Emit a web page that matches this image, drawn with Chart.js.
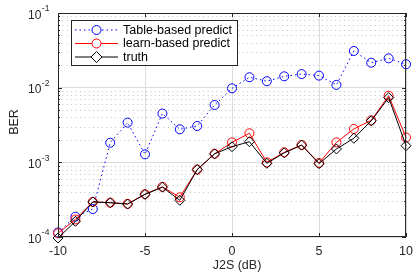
<!DOCTYPE html>
<html>
<head>
<meta charset="utf-8">
<script src="https://cdn.jsdelivr.net/npm/chart.js@4/dist/chart.umd.min.js"></script>
<style>
  html, body { margin: 0; padding: 0; background: #fff; }
  #wrap { width: 420px; height: 274px; position: relative; }
</style>
</head>
<body>
<div id="wrap"><canvas id="berChart"></canvas></div>
<script>
// J2S in dB
const j2s = [-10, -9, -8, -7, -6, -5, -4, -3, -2, -1, 0, 1, 2, 3, 4, 5, 6, 7, 8, 9, 10];

const tableBased = [1.15e-4, 1.87e-4, 2.37e-4, 1.83e-3, 3.4e-3, 1.28e-3, 4.5e-3, 2.77e-3, 3.07e-3, 5.86e-3,
    9.8e-3, 1.38e-2, 1.22e-2, 1.42e-2, 1.52e-2, 1.45e-2, 1.09e-2, 3.1e-2, 2.16e-2, 2.47e-2, 2.06e-2];
const learnBased = [1.12e-4, 1.72e-4, 2.95e-4, 2.88e-4, 2.78e-4, 3.75e-4, 4.7e-4, 3.4e-4, 8.0e-4, 1.3e-3,
    1.85e-3, 2.45e-3, 1.0e-3, 1.36e-3, 1.71e-3, 9.8e-4, 1.85e-3, 2.8e-3, 3.65e-3, 7.8e-3, 2.15e-3];
const truth = [0.97e-4, 1.62e-4, 2.95e-4, 2.88e-4, 2.76e-4, 3.72e-4, 4.65e-4, 3.1e-4, 8.0e-4, 1.3e-3,
    1.62e-3, 1.89e-3, 9.7e-4, 1.34e-3, 1.7e-3, 9.6e-4, 1.51e-3, 2.1e-3, 3.6e-3, 7.35e-3, 1.67e-3];

const xTicks = [-10, -5, 0, 5, 10];
const yDecades = [-4, -3, -2, -1];

const seriesNames = ['Table-based predict', 'learn-based predict', 'truth'];

const FONT = "'Liberation Sans', Arial, sans-serif";
const AXIS_COLOR = '#262626';

const toPoints = (ys) => ys.map((y, i) => ({ x: j2s[i], y: y }));

// frame, minor grid, y tick labels, axis titles, legend
const matlabLook = {
    id: 'matlabLook',
    beforeDatasetsDraw(chart) {
        const { ctx, chartArea: a, scales } = chart;
        const ys = scales.y;
        ctx.save();
        ctx.strokeStyle = '#c2c2c2';
        ctx.lineWidth = 1;
        ctx.setLineDash([1, 3.4]);
        yDecades.slice(0, -1).forEach(d => {
            for (let k = 2; k <= 9; k++) {
                const py = Math.round(ys.getPixelForValue(k * Math.pow(10, d))) + 0.5;
                ctx.beginPath();
                ctx.moveTo(a.left, py);
                ctx.lineTo(a.right, py);
                ctx.stroke();
            }
        });
        ctx.restore();
    },
    afterDraw(chart) {
        const { ctx, chartArea: a, scales } = chart;
        const xs = scales.x, ys = scales.y;
        ctx.save();

        // box + inward ticks
        ctx.strokeStyle = AXIS_COLOR;
        ctx.lineWidth = 1;
        ctx.strokeRect(a.left + 0.5, a.top + 0.5, a.right - a.left - 1, a.bottom - a.top - 1);
        ctx.beginPath();
        xTicks.forEach(v => {
            const px = Math.round(xs.getPixelForValue(v)) + 0.5;
            ctx.moveTo(px, a.bottom); ctx.lineTo(px, a.bottom - 4);
            ctx.moveTo(px, a.top); ctx.lineTo(px, a.top + 4);
        });
        yDecades.forEach(d => {
            for (let k = 1; k <= 9; k++) {
                if (d === -1 && k > 1) break;
                const py = Math.round(ys.getPixelForValue(k * Math.pow(10, d))) + 0.5;
                const len = k === 1 ? 4 : 2;
                ctx.moveTo(a.left, py); ctx.lineTo(a.left + len, py);
                ctx.moveTo(a.right, py); ctx.lineTo(a.right - len, py);
            }
        });
        ctx.stroke();

        // y tick labels 10^n
        ctx.fillStyle = AXIS_COLOR;
        ctx.textBaseline = 'middle';
        ctx.textAlign = 'left';
        yDecades.forEach(d => {
            const py = ys.getPixelForValue(Math.pow(10, d));
            ctx.font = '12px ' + FONT;
            const baseX = 28;
            ctx.fillText('10', baseX, py + 2.5);
            const w = ctx.measureText('10').width;
            ctx.font = '8.5px ' + FONT;
            ctx.fillText(String(d), baseX + w + 0.5, py - 4);
        });

        // axis titles
        ctx.font = '12.5px ' + FONT;
        ctx.textAlign = 'center';
        ctx.fillText('J2S (dB)', 237, 266);
        ctx.save();
        ctx.translate(15, 122);
        ctx.rotate(-Math.PI / 2);
        ctx.fillText('BER', 0, 0);
        ctx.restore();

        // legend
        const lx = 71.5, ly = 20.5, lw = 166, lh = 45;
        ctx.fillStyle = '#fff';
        ctx.fillRect(lx, ly, lw, lh);
        ctx.strokeStyle = AXIS_COLOR;
        ctx.strokeRect(lx, ly, lw, lh);
        ctx.font = '12.5px ' + FONT;
        ctx.textAlign = 'left';
        const rows = [30, 43.5, 57];
        chart.data.datasets.forEach((ds, i) => {
            const ry = rows[i];
            ctx.strokeStyle = ds.borderColor;
            ctx.lineWidth = 1;
            ctx.setLineDash(ds.borderDash || []);
            ctx.beginPath();
            ctx.moveTo(75, ry); ctx.lineTo(118, ry);
            ctx.stroke();
            ctx.setLineDash([]);
            ctx.beginPath();
            if (ds.pointStyle === 'rectRot') {
                ctx.moveTo(96.5, ry - 5.5); ctx.lineTo(102, ry);
                ctx.lineTo(96.5, ry + 5.5); ctx.lineTo(91, ry);
                ctx.closePath();
            } else {
                ctx.arc(96.5, ry, 4.5, 0, Math.PI * 2);
            }
            ctx.fillStyle = '#fff';
            ctx.fill();
            ctx.stroke();
            ctx.fillStyle = '#000';
            ctx.textBaseline = 'middle';
            ctx.fillText(ds.label, 123, ry + 0.5);
        });
        ctx.restore();
    }
};

const ctx = document.getElementById('berChart').getContext('2d');
new Chart(ctx, {
    type: 'line',
    data: {
        datasets: [
            {
                label: seriesNames[0],
                data: toPoints(tableBased),
                borderColor: '#0000ff',
                backgroundColor: 'rgba(0,0,0,0)',
                borderWidth: 1,
                borderDash: [1.5, 3],
                pointStyle: 'circle',
                pointRadius: 4.5,
                pointBorderWidth: 1,
                order: 3,
                clip: false
            },
            {
                label: seriesNames[1],
                data: toPoints(learnBased),
                borderColor: '#ff0000',
                backgroundColor: 'rgba(0,0,0,0)',
                borderWidth: 1,
                pointStyle: 'circle',
                pointRadius: 4.5,
                pointBorderWidth: 1,
                order: 2,
                clip: false
            },
            {
                label: seriesNames[2],
                data: toPoints(truth),
                borderColor: '#000000',
                backgroundColor: 'rgba(0,0,0,0)',
                borderWidth: 1,
                pointStyle: 'rectRot',
                pointRadius: 5,
                pointBorderWidth: 1,
                order: 1,
                clip: false
            }
        ]
    },
    options: {
        responsive: true,
        maintainAspectRatio: false,
        animation: false,
        layout: { padding: { top: 13, right: 9, left: 0, bottom: 0 } },
        plugins: {
            legend: { display: false },
            tooltip: { enabled: false }
        },
        scales: {
            x: {
                type: 'linear',
                min: -10,
                max: 10,
                afterBuildTicks: (scale) => { scale.ticks = xTicks.map(v => ({ value: v })); },
                afterFit: (scale) => { scale.height = 37; },
                ticks: {
                    color: AXIS_COLOR,
                    padding: 7,
                    font: { family: FONT, size: 12.5 },
                    maxRotation: 0,
                    callback: (v) => String(v)
                },
                grid: { color: '#dcdcdc', lineWidth: 1, drawTicks: false },
                border: { display: false }
            },
            y: {
                type: 'logarithmic',
                min: 1e-4,
                max: 1e-1,
                afterBuildTicks: (scale) => { scale.ticks = yDecades.map(d => ({ value: Math.pow(10, d) })); },
                afterFit: (scale) => { scale.width = 58; },
                ticks: { display: false },
                grid: { color: '#dcdcdc', lineWidth: 1, drawTicks: false },
                border: { display: false }
            }
        }
    },
    plugins: [matlabLook]
});
</script>
</body>
</html>
